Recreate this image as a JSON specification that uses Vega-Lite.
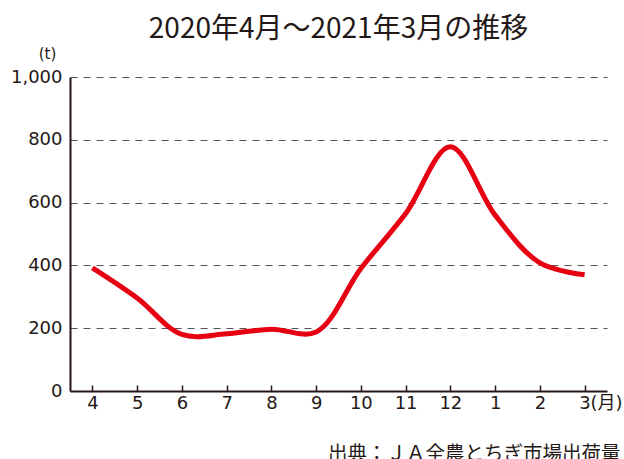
{
  "$schema": "https://vega.github.io/schema/vega-lite/v6.json",
  "width": 537,
  "height": 314,
  "autosize": {"type": "none"},
  "padding": {"left": 70, "top": 77, "right": 17, "bottom": 68},
  "background": "white",
  "title": {
    "text": "2020年4月～2021年3月の推移",
    "font": "Noto Sans CJK JP",
    "fontSize": 28,
    "fontWeight": "normal",
    "color": "#231815",
    "anchor": "middle",
    "offset": 2
  },
  "data": {
    "values": [
      {"month": "4", "t": 392},
      {"month": "5", "t": 296},
      {"month": "6", "t": 180},
      {"month": "7", "t": 182},
      {"month": "8", "t": 197},
      {"month": "9", "t": 188},
      {"month": "10", "t": 390},
      {"month": "11", "t": 565},
      {"month": "12", "t": 778},
      {"month": "1", "t": 560},
      {"month": "2", "t": 408},
      {"month": "3", "t": 370}
    ]
  },
  "mark": {"type": "line", "color": "#e60012", "strokeWidth": 5, "interpolate": "catmull-rom", "strokeCap": "butt"},
  "encoding": {
    "x": {
      "field": "month",
      "type": "ordinal",
      "sort": ["4","5","6","7","8","9","10","11","12","1","2","3"],
      "scale": {"type": "point", "padding": 0.5},
      "axis": {
        "title": "出典：ＪＡ全農とちぎ市場出荷量",
        "titleFont": "Noto Sans CJK JP",
        "titleFontSize": 19.5,
        "titleFontWeight": "normal",
        "titleColor": "#231815",
        "titleAnchor": "end",
        "titleAlign": "right",
        "titleBaseline": "alphabetic",
        "titleX": 550,
        "titleY": 68,
        "labelAngle": 0,
        "labelFont": "DejaVu Sans, Noto Sans CJK JP",
        "labelFontSize": 18,
        "labelColor": "#231815",
        "labelPadding": 9,
        "labelExpr": "datum.label == '3' ? '3(月)' : datum.label",
        "labelAlign": {"condition": {"test": "datum.label == '3'", "value": "left"}, "value": "center"},
        "labelOffset": {"condition": {"test": "datum.label == '3'", "value": -6}, "value": 0},
        "domainColor": "#231815",
        "domainWidth": 2,
        "tickColor": "#231815",
        "tickWidth": 1.5,
        "tickSize": -6,
        "grid": false
      }
    },
    "y": {
      "field": "t",
      "type": "quantitative",
      "scale": {"domain": [0, 1000], "nice": false},
      "axis": {
        "values": [0, 200, 400, 600, 800, 1000],
        "format": ",.0f",
        "title": "(t)",
        "titleAngle": 0,
        "titleFont": "DejaVu Sans",
        "titleFontSize": 15,
        "titleFontWeight": "normal",
        "titleColor": "#231815",
        "titleAlign": "center",
        "titleBaseline": "alphabetic",
        "titleX": -23,
        "titleY": -19,
        "labelFont": "DejaVu Sans",
        "labelFontSize": 18,
        "labelColor": "#231815",
        "labelPadding": 8,
        "ticks": false,
        "domainColor": "#231815",
        "domainWidth": 2,
        "grid": true,
        "gridDash": [7, 6],
        "gridColor": "#555555",
        "gridWidth": 1.2,
        "gridOpacity": {"condition": {"test": "datum.value == 0", "value": 0}, "value": 1}
      }
    }
  },
  "config": {"view": {"stroke": null}}
}
